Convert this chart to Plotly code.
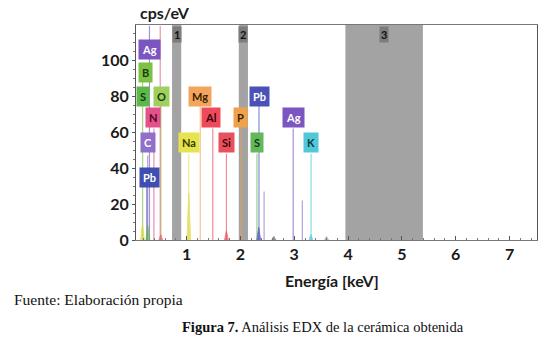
import plotly.graph_objects as go

# ---- data ----
band_names = ["1", "2", "3"]
band_start = [0.73, 1.97, 3.95]
band_end = [0.90, 2.14, 5.39]

label_text = ["Ag", "B", "S", "O", "N", "C", "Pb", "Mg", "Na", "Al", "Si", "P", "Pb", "S", "Ag", "K"]
label_x = [0.31, 0.23, 0.19, 0.53, 0.38, 0.29, 0.31, 1.24, 1.05, 1.46, 1.74, 2.00, 2.36, 2.30, 2.99, 3.31]
label_y = [106, 93, 80, 80, 68, 54, 35, 80, 54, 68, 54, 68, 80, 54, 68, 54]
label_bg = ["#7b55c0", "#7cc242", "#5cb848", "#9fd05e", "#e4508c", "#9070c8", "#3f4fb0",
            "#f2a55c", "#e6e44c", "#ee4a5c", "#e8505e", "#f0a24a", "#4a52b8", "#62b85a", "#7b55c0", "#50c8d8"]
label_fg = ["white", "#1a3a10", "#0f3a0f", "#1a3a10", "#4a0a20", "white", "white",
            "#3a2000", "#3a3a00", "#3a0008", "#3a0008", "#3a2000", "white", "#0f3a0f", "white", "#063a40"]

line_x = [0.183, 0.277, 0.31, 0.26, 0.392, 0.525, 0.51, 1.041, 1.254, 1.487, 1.740, 2.013,
          2.307, 2.345, 2.44, 2.98, 3.15, 3.313]
line_top = [90, 47, 119, 30, 62, 75, 119, 48, 75, 62, 48, 62, 48, 75, 27, 62, 22, 48]
line_color = ["#7cc242", "#9070c8", "#7b55c0", "#3f4fb0", "#e4508c", "#9fd05e", "#e06070", "#e6e44c",
              "#f2a55c", "#ee4a5c", "#e8505e", "#f0a24a", "#62b85a", "#4a52b8", "#9070c8",
              "#7b55c0", "#9070c8", "#50c8d8"]

peak_x = [0.18, 0.28, 0.52, 1.04, 1.74, 2.34, 2.62, 3.31, 3.60]
peak_h = [9, 8, 3, 26, 5, 7, 2, 3, 2]
peak_color = ["#d8d840", "#5cb848", "#e06070", "#e6d84c", "#e8505e", "#4a52b8", "#606060", "#50c8d8", "#a0a0a0"]

# ---- figure ----
fig = go.Figure()

for s, e in zip(band_start, band_end):
    fig.add_vrect(x0=s, x1=e, fillcolor="#a3a3a3", opacity=1, line_width=0, layer="below")

for x, t, c in zip(line_x, line_top, line_color):
    fig.add_trace(go.Scatter(x=[x, x], y=[0, t], mode="lines",
                             line=dict(color=c, width=1.2), opacity=0.65,
                             showlegend=False, hoverinfo="skip"))

pw = 0.035
for x, h, c in zip(peak_x, peak_h, peak_color):
    fig.add_trace(go.Scatter(x=[x - pw, x, x + pw], y=[0, h, 0], mode="lines",
                             fill="toself", fillcolor=c, line=dict(color=c, width=1),
                             opacity=0.7, showlegend=False, hoverinfo="skip"))

for n, s, e in zip(band_names, band_start, band_end):
    fig.add_annotation(x=(s + e) / 2, y=114, text=f"<b>{n}</b>", showarrow=False,
                       bgcolor="#7c7c7c", font=dict(family="Lato", size=11, color="#111"),
                       borderpad=1)

for t, x, y, bg, fg in zip(label_text, label_x, label_y, label_bg, label_fg):
    fig.add_annotation(x=x, y=y, text=f"<b>{t}</b>", showarrow=False, bgcolor=bg,
                       font=dict(family="Lato", size=11, color=fg), borderpad=3)

fig.add_annotation(xref="paper", yref="paper", x=0.005, y=1.056, xanchor="left", yanchor="middle",
                   text="<b>cps/eV</b>", showarrow=False,
                   font=dict(family="Lato", size=16, color="#1a1a1a"))
fig.add_annotation(xref="paper", yref="paper", x=0.489, y=-0.19, xanchor="center", yanchor="middle",
                   text="<b>Energía [keV]</b>", showarrow=False,
                   font=dict(family="Lato", size=16, color="#1a1a1a"))
fig.add_annotation(xref="paper", yref="paper", x=-0.309, y=-0.279, xanchor="left", yanchor="middle",
                   text="Fuente: Elaboración propia", showarrow=False,
                   font=dict(family="Liberation Serif", size=15.5, color="#111"))
fig.add_annotation(xref="paper", yref="paper", x=0.466, y=-0.405, xanchor="center", yanchor="middle",
                   text="<b>Figura 7.</b> Análisis EDX de la cerámica obtenida", showarrow=False,
                   font=dict(family="Liberation Serif", size=14.5, color="#111"))

fig.update_layout(
    width=549, height=340,
    margin=dict(l=136, r=12, t=25, b=100),
    paper_bgcolor="white", plot_bgcolor="white",
    showlegend=False,
    xaxis=dict(range=[0.06, 7.51], tickvals=[1, 2, 3, 4, 5, 6, 7],
               ticktext=["<b>%d</b>" % v for v in [1, 2, 3, 4, 5, 6, 7]],
               ticks="inside", ticklen=4, tickcolor="#555",
               showgrid=False, zeroline=False,
               showline=True, linecolor="#777", linewidth=1, mirror=True,
               tickfont=dict(family="Lato", size=16, color="#1a1a1a"),
               minor=dict(dtick=0.2, ticks="inside", ticklen=2, tickcolor="#777")),
    yaxis=dict(range=[0, 119.5], tickvals=[0, 20, 40, 60, 80, 100],
               ticktext=["<b>0</b>", "<b>20</b>", "<b>40</b>", "<b>60</b>", "<b>80</b>", "<b>100</b>"],
               ticks="outside", ticklen=3, tickcolor="#555",
               showgrid=False, zeroline=False,
               showline=True, linecolor="#555", linewidth=1, mirror=True,
               tickfont=dict(family="Lato", size=16, color="#1a1a1a"),
               minor=dict(dtick=5, ticks="outside", ticklen=2, tickcolor="#777")),
)

fig.write_html("out.html", config={"displayModeBar": False},
               post_script="document.body.style.margin='0';")
